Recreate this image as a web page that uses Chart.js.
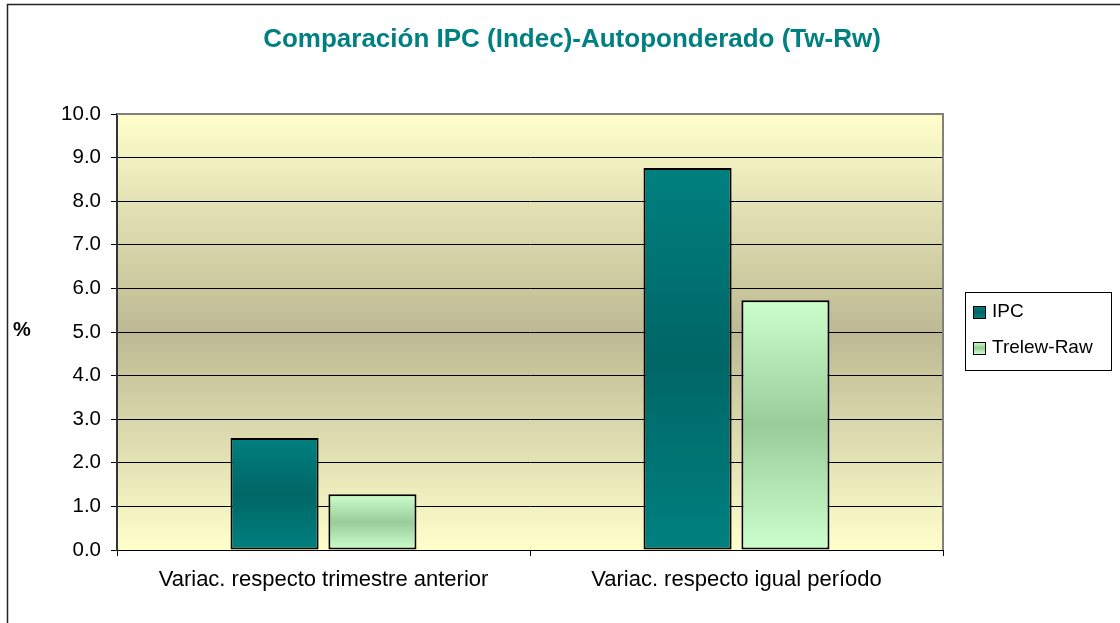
<!DOCTYPE html>
<html>
<head>
<meta charset="utf-8">
<script src="https://cdn.jsdelivr.net/npm/chart.js@4.4.0/dist/chart.umd.min.js"></script>
<style>
    body { margin: 0; background: #fff; }
    #wrap { width: 1120px; height: 623px; }
</style>
</head>
<body>
<div id="wrap"><canvas id="ipcChart" width="1120" height="623"></canvas></div>
<script>
const chartTitle = 'Comparación IPC (Indec)-Autoponderado (Tw-Rw)';
const categories = ['Variac. respecto trimestre anterior', 'Variac. respecto igual período'];
const seriesNames = ['IPC', 'Trelew-Raw'];
const ipcValues = [2.57, 8.76];
const trelewValues = [1.28, 5.73];
const yMin = 0;
const yMax = 10;
const yStep = 1;

const FONT = 'Arial, "Liberation Sans", sans-serif';

// colours for the 3-stop bar gradients (top, middle, bottom)
const ipcStops = ['#008080', '#006666', '#008080'];
const trelewStops = ['#ccffcc', '#99cc99', '#ccffcc'];

function barGradient(stops) {
    return (ctx) => {
        const chart = ctx.chart;
        if (!chart.chartArea || ctx.raw === undefined) return stops[1];
        const y = chart.scales.y;
        const top = y.getPixelForValue(ctx.raw);
        const bottom = y.getPixelForValue(0);
        const g = chart.ctx.createLinearGradient(0, top, 0, bottom);
        g.addColorStop(0, stops[0]);
        g.addColorStop(0.5, stops[1]);
        g.addColorStop(1, stops[2]);
        return g;
    };
}

// plot background, border, title, "%" label and legend box
const decorations = {
    id: 'decorations',
    beforeDraw(chart) {
        const { ctx, chartArea: a } = chart;
        ctx.save();
        const g = ctx.createLinearGradient(0, a.top, 0, a.bottom);
        g.addColorStop(0, '#ffffcc');
        g.addColorStop(0.5, '#bdb993');
        g.addColorStop(1, '#ffffcc');
        ctx.fillStyle = g;
        ctx.fillRect(a.left, a.top, a.right - a.left, a.bottom - a.top);
        ctx.restore();
    },
    afterDraw(chart) {
        const { ctx, chartArea: a } = chart;
        ctx.save();

        // gray plot frame on top and right
        ctx.strokeStyle = '#808080';
        ctx.lineWidth = 2;
        ctx.beginPath();
        ctx.moveTo(a.left, a.top);
        ctx.lineTo(a.right, a.top);
        ctx.lineTo(a.right, a.bottom);
        ctx.stroke();

        // outer chart frame (top and left only visible)
        ctx.strokeStyle = '#222';
        ctx.lineWidth = 1.5;
        ctx.beginPath();
        ctx.moveTo(7.5, 623);
        ctx.lineTo(7.5, 4.5);
        ctx.lineTo(1120, 4.5);
        ctx.stroke();

        // title
        ctx.fillStyle = '#008080';
        ctx.font = 'bold 26px ' + FONT;
        ctx.textAlign = 'center';
        ctx.textBaseline = 'middle';
        ctx.fillText(chartTitle, 572, 40);

        // y axis title
        ctx.fillStyle = '#000';
        ctx.font = 'bold 20px ' + FONT;
        ctx.textAlign = 'left';
        ctx.fillText('%', 13, 330);

        // legend
        ctx.strokeStyle = '#000';
        ctx.lineWidth = 1;
        ctx.strokeRect(965.5, 292.5, 146, 78);
        const stops = [ipcStops, trelewStops];
        chart.data.datasets.forEach((ds, i) => {
            const y = 306 + i * 36;
            const g = ctx.createLinearGradient(0, y, 0, y + 12);
            g.addColorStop(0, stops[i][0]);
            g.addColorStop(0.5, stops[i][1]);
            g.addColorStop(1, stops[i][2]);
            ctx.fillStyle = g;
            ctx.fillRect(973, y, 12, 12);
            ctx.strokeRect(973.5, y + 0.5, 12, 12);
            ctx.fillStyle = '#000';
            ctx.font = '19px ' + FONT;
            ctx.textBaseline = 'middle';
            ctx.fillText(ds.label, 992, y + 6);
        });
        ctx.restore();
    }
};

new Chart(document.getElementById('ipcChart'), {
    type: 'bar',
    data: {
        labels: categories,
        datasets: [
            {
                label: seriesNames[0],
                data: ipcValues,
                backgroundColor: barGradient(ipcStops),
                borderColor: '#000',
                borderWidth: 2,
                borderSkipped: false
            },
            {
                label: seriesNames[1],
                data: trelewValues,
                backgroundColor: barGradient(trelewStops),
                borderColor: '#000',
                borderWidth: 2,
                borderSkipped: false
            }
        ]
    },
    options: {
        responsive: false,
        animation: false,
        layout: { padding: { left: 57, top: 114, right: 177, bottom: 23 } },
        datasets: {
            bar: { categoryPercentage: 0.474, barPercentage: 0.9 }
        },
        scales: {
            x: {
                afterFit: (scale) => { scale.height = 50; },
                grid: {
                    offset: true,
                    drawOnChartArea: false,
                    drawTicks: true,
                    tickLength: 6,
                    color: '#000'
                },
                border: { color: '#000', width: 1 },
                ticks: {
                    color: '#000',
                    font: { family: FONT, size: 22 },
                    padding: 11
                }
            },
            y: {
                min: yMin,
                max: yMax,
                afterFit: (scale) => { scale.width = 60; },
                grid: {
                    color: '#000',
                    lineWidth: 1,
                    drawTicks: true,
                    tickLength: 6
                },
                border: { color: '#333', width: 2 },
                ticks: {
                    stepSize: yStep,
                    color: '#000',
                    font: { family: FONT, size: 20.5 },
                    padding: 10,
                    callback: (v) => Number(v).toFixed(1)
                }
            }
        },
        plugins: {
            legend: { display: false },
            title: { display: false },
            tooltip: { enabled: false }
        }
    },
    plugins: [decorations]
});
</script>
</body>
</html>
